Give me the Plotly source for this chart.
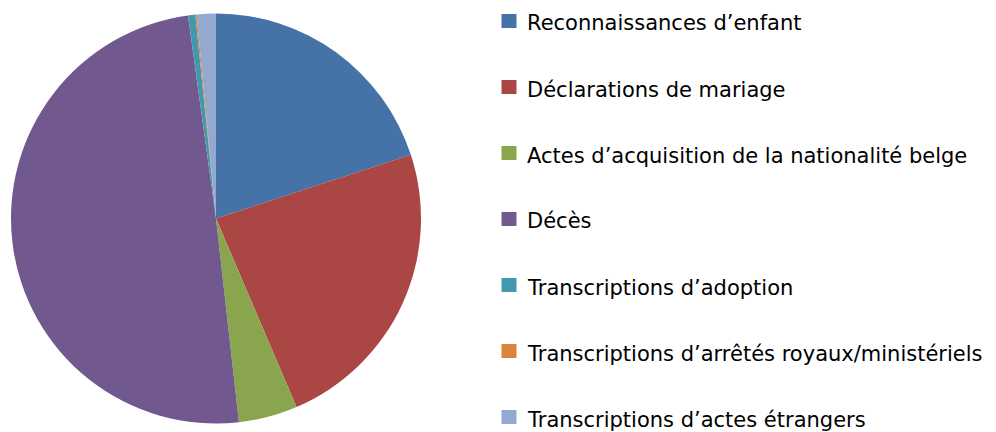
import plotly.graph_objects as go

labels = [
    "Reconnaissances d’enfant",
    "Déclarations de mariage",
    "Actes d’acquisition de la nationalité belge",
    "Décès",
    "Transcriptions d’adoption",
    "Transcriptions d’arrêtés royaux/ministériels",
    "Transcriptions d’actes étrangers",
]
values = [19.97, 23.6, 4.64, 49.6, 0.57, 0.11, 1.5]
colors = ["#4572A7", "#AA4643", "#89A54E", "#71588F", "#4198AF", "#DB843D", "#93A9CF"]

W, H = 996, 432

fig = go.Figure(
    go.Pie(
        labels=labels,
        values=values,
        marker=dict(colors=colors, line=dict(width=0)),
        sort=False,
        direction="clockwise",
        rotation=0,
        textinfo="none",
        hoverinfo="label+percent",
        domain=dict(x=[11 / W, 421 / W], y=[(H - 423.5) / H, (H - 13.5) / H]),
        showlegend=False,
    )
)

# Custom legend (positions in pixels converted to paper coords)
font_family = "'DejaVu Sans', 'Open Sans', sans-serif"
shapes = []
annotations = []
for i, (lab, col) in enumerate(zip(labels, colors)):
    yc = 21 + 66 * i
    shapes.append(dict(
        type="rect", xref="paper", yref="paper",
        x0=501.5 / W, x1=516.5 / W,
        y0=(H - (yc + 7)) / H, y1=(H - (yc - 7)) / H,
        fillcolor=col, line=dict(width=0),
    ))
    annotations.append(dict(
        xref="paper", yref="paper",
        x=525 / W, y=(H - (yc + 2.5)) / H,
        xanchor="left", yanchor="middle",
        text=lab, showarrow=False,
        font=dict(family=font_family, size=21, color="#000000"),
    ))

fig.update_layout(
    width=W, height=H,
    margin=dict(l=0, r=0, t=0, b=0),
    paper_bgcolor="white",
    plot_bgcolor="white",
    showlegend=False,
    shapes=shapes,
    annotations=annotations,
)

fig.write_html(
    "out.html",
    config={"displayModeBar": False},
    post_script="document.body.style.margin='0';",
)
